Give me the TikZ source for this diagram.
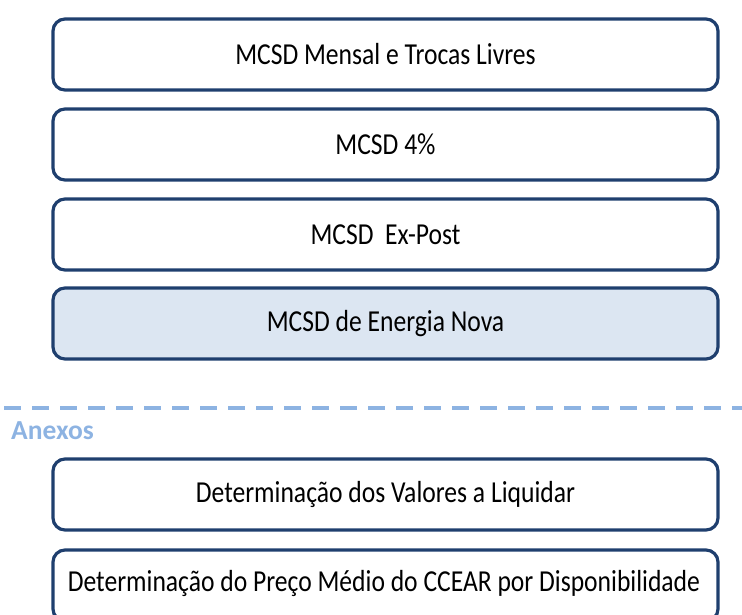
\documentclass[tikz,border=0pt]{standalone}
\usepackage{fontspec}
\usepackage{graphicx}
\setmainfont{Carlito}
\definecolor{boxline}{HTML}{1F3F6E}
\definecolor{boxfill}{HTML}{DCE6F2}
\definecolor{sep}{HTML}{8DB3E2}
\newcommand{\tallt}[1]{\scalebox{1}[1.19]{#1}}
\begin{document}
\begin{tikzpicture}[x=1pt,y=-1pt,
  mbox/.style={draw=boxline, line width=3.2pt, rounded corners=12pt, minimum width=665pt, minimum height=71pt, inner sep=0pt, font=\fontsize{25.6}{28}\selectfont, text=black},
  sepline/.style={draw=sep, line width=3.5pt, dash pattern=on 17pt off 11pt}]
\useasboundingbox (0,0) rectangle (742,615);
\clip (0,0) rectangle (742,615);
\node[mbox] (b1) at (385.5,54.5) {\tallt{MCSD Mensal e Trocas Livres}};
\node[mbox] (b2) at (385.5,144.5) {\tallt{MCSD 4\%}};
\node[mbox] (b3) at (385.5,234.5) {\tallt{MCSD\ \ Ex-Post}};
\node[mbox, fill=boxfill] (b4) at (385.5,323.5) {\tallt{MCSD de Energia Nova}};
\coordinate (sl) at (4,408);
\coordinate (sr) at (742,408);
\draw[sepline] (sl) -- (sr);
\node[anchor=west, text=sep, font=\bfseries\fontsize{27.5}{30}\selectfont, inner sep=0pt] (anx) at (11,431) {Anexos};
\node[mbox] (b5) at (385.5,494.5) {\tallt{Determinação dos Valores a Liquidar}};
\node[mbox] (b6) at (385.5,585.5) {};
\node[font=\fontsize{25.6}{28}\selectfont, inner sep=0pt] (t6) at (384,583) {\tallt{Determinação do Preço Médio do CCEAR por Disponibilidade}};
\end{tikzpicture}
\end{document}
